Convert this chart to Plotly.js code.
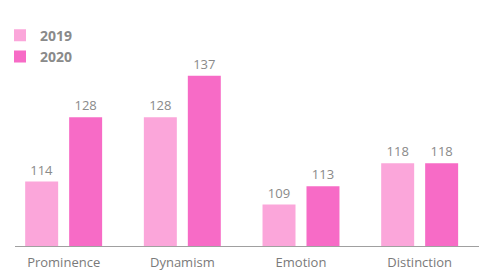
<!DOCTYPE html>
<html>
<head>
<meta charset="utf-8">
<script src="https://cdn.plot.ly/plotly-3.0.1.min.js"></script>
<style>html,body{margin:0;padding:0;background:#fff;}#chart{width:493px;height:280px;}</style>
</head>
<body>
<div id="chart"></div>
<script>
const categories = ["Prominence", "Dynamism", "Emotion", "Distinction"];
const seriesNames = ["2019", "2020"];
const values2019 = [114, 128, 109, 118];
const values2020 = [128, 137, 113, 118];
const colors = ["#fba6da", "#f76bc6"];

const valueFont = {family: "Open Sans, sans-serif", size: 13, color: "#8a8a8a"};

const traces = [values2019, values2020].map((vals, i) => ({
  type: "bar",
  name: seriesNames[i],
  x: categories,
  y: vals,
  base: 0,
  marker: {color: colors[i]},
  text: vals.map(String),
  textposition: "outside",
  textfont: valueFont,
  cliponaxis: false,
  hoverinfo: "none"
}));

const layout = {
  width: 493,
  height: 280,
  margin: {l: 15, r: 14, t: 62, b: 34, autoexpand: false},
  paper_bgcolor: "#ffffff",
  plot_bgcolor: "#ffffff",
  barmode: "group",
  bargap: 0.259,
  bargroupgap: 0.25,
  showlegend: true,
  legend: {
    xref: "container", yref: "container",
    x: 0.0, y: 0.93, xanchor: "left", yanchor: "top",
    orientation: "v",
    font: {family: "Open Sans, sans-serif", size: 14, color: "#8a8a8a", weight: "bold"},
    tracegroupgap: 0,
    itemclick: false
  },
  xaxis: {
    type: "category",
    range: [-0.41, 3.5],
    showline: true, linecolor: "#a0a0a0", linewidth: 1,
    showgrid: false, zeroline: false, ticks: "",
    ticklabelstandoff: 4,
    tickfont: {family: "Open Sans, sans-serif", size: 13, color: "#7a7a7a"},
    fixedrange: true
  },
  yaxis: {
    range: [100, 140],
    visible: false,
    showgrid: false, zeroline: false,
    fixedrange: true
  }
};

Plotly.newPlot("chart", traces, layout, {staticPlot: true, displayModeBar: false});
</script>
</body>
</html>
